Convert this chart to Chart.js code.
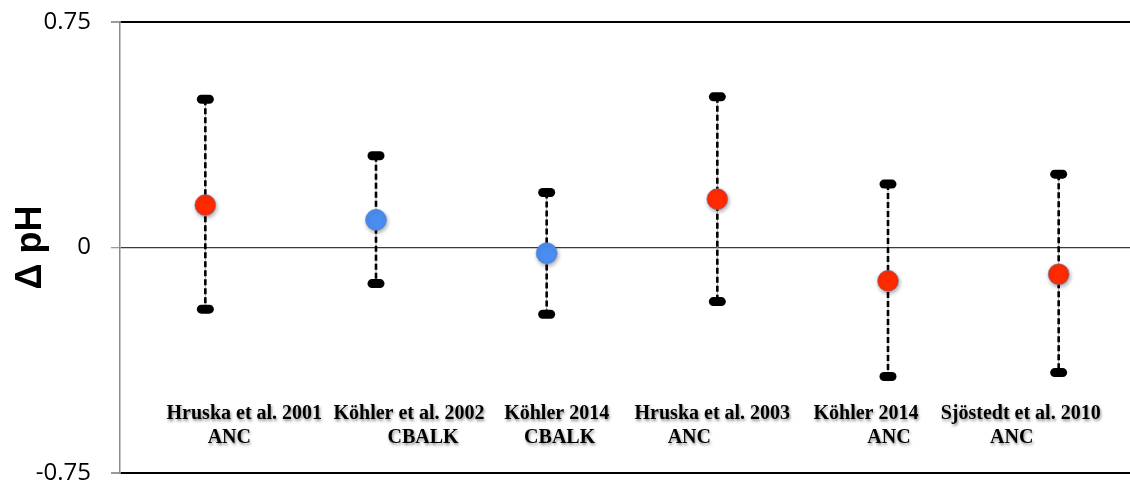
<!DOCTYPE html>
<html>
<head>
<meta charset="utf-8">
<script src="https://cdn.jsdelivr.net/npm/chart.js@4"></script>
<style>
  html, body { margin: 0; padding: 0; background: #fff; overflow: hidden; }
  #wrap { width: 1148px; height: 488px; }
</style>
</head>
<body>
<div id="wrap"><canvas id="c"></canvas></div>
<script>
// Study / indicator for each comparison
const studies = ['Hruska et al. 2001', 'Köhler et al. 2002', 'Köhler 2014', 'Hruska et al. 2003', 'Köhler 2014', 'Sjöstedt et al. 2010'];
const indicators = ['ANC', 'CBALK', 'CBALK', 'ANC', 'ANC', 'ANC'];

// Δ pH: mean with lower / upper range
const meanDeltaPH  = [0.141, 0.092, -0.019, 0.161, -0.111, -0.089];
const upperDeltaPH = [0.493, 0.305, 0.183, 0.501, 0.211, 0.244];
const lowerDeltaPH = [-0.205, -0.120, -0.222, -0.180, -0.429, -0.416];

// y-axis tick values
const yTicks = [-0.75, 0, 0.75];

// marker colour per indicator
const indicatorColors = { ANC: '#ff2a00', CBALK: '#4a8cf0' };

// horizontal nudges (px) of the two label lines under each point
const labelShift1 = [39, 33, 10, -5, -22, -38];
const labelShift2 = [24, 47, 13, -28, 1, -47];

const rangeBars = {
  id: 'rangeBars',
  beforeDatasetsDraw(chart) {
    const { ctx, scales: { x, y } } = chart;
    ctx.save();
    for (let i = 0; i < meanDeltaPH.length; i++) {
      const px = x.getPixelForValue(i);
      const yHi = y.getPixelForValue(upperDeltaPH[i]);
      const yLo = y.getPixelForValue(lowerDeltaPH[i]);
      // thin guide line
      ctx.setLineDash([]);
      ctx.strokeStyle = '#a8a8a8';
      ctx.lineWidth = 1;
      ctx.beginPath(); ctx.moveTo(px, yHi); ctx.lineTo(px, yLo); ctx.stroke();
      // dashed range line
      ctx.setLineDash([6, 3]);
      ctx.strokeStyle = '#000';
      ctx.lineWidth = 2.6;
      ctx.beginPath(); ctx.moveTo(px, yHi); ctx.lineTo(px, yLo); ctx.stroke();
      ctx.setLineDash([]);
      // rounded end caps
      ctx.fillStyle = '#000';
      for (const cy of [yHi, yLo]) {
        ctx.beginPath();
        ctx.roundRect(px - 8.5, cy - 4.5, 17, 9, 4.5);
        ctx.fill();
      }
    }
    ctx.restore();
  },
  beforeDatasetDraw(chart) {
    const ctx = chart.ctx;
    ctx.save();
    ctx.shadowColor = 'rgba(0,0,0,0.35)';
    ctx.shadowBlur = 4;
    ctx.shadowOffsetX = 1;
    ctx.shadowOffsetY = 2;
  },
  afterDatasetDraw(chart) {
    chart.ctx.restore();
  },
  afterDraw(chart) {
    const { ctx, chartArea, scales: { x } } = chart;
    ctx.save();
    ctx.font = 'bold 20px "Liberation Serif", serif';
    ctx.fillStyle = '#000';
    ctx.textAlign = 'center';
    ctx.textBaseline = 'alphabetic';
    ctx.shadowColor = 'rgba(0,0,0,0.45)';
    ctx.shadowBlur = 3;
    ctx.shadowOffsetX = 1;
    ctx.shadowOffsetY = 2;
    for (let i = 0; i < studies.length; i++) {
      const px = x.getPixelForValue(i);
      ctx.fillText(studies[i], px + labelShift1[i], chartArea.bottom - 54);
      ctx.fillText(indicators[i], px + labelShift2[i], chartArea.bottom - 30);
    }
    ctx.restore();
  }
};

new Chart(document.getElementById('c'), {
  type: 'line',
  data: {
    labels: studies.map((s, i) => s + ' ' + indicators[i]),
    datasets: [{
      data: meanDeltaPH,
      showLine: false,
      pointRadius: 10.5,
      pointHoverRadius: 10.5,
      pointBackgroundColor: indicators.map(k => indicatorColors[k]),
      pointBorderColor: 'rgba(90,130,200,0.55)',
      pointBorderWidth: 1
    }]
  },
  options: {
    responsive: true,
    maintainAspectRatio: false,
    animation: false,
    events: [],
    layout: { autoPadding: false, padding: { left: 0, right: 4, top: 22, bottom: 15 } },
    plugins: { legend: { display: false }, tooltip: { enabled: false } },
    scales: {
      x: {
        type: 'category',
        offset: true,
        display: false
      },
      y: {
        min: -0.75,
        max: 0.75,
        afterBuildTicks(axis) { axis.ticks = yTicks.map(v => ({ value: v })); },
        afterFit(axis) {
          axis.width = 120;
          axis.paddingTop = 0;
          axis.paddingBottom = 0;
        },
        ticks: {
          padding: 20,
          color: '#000',
          font: { family: '"Open Sans", sans-serif', size: 24 },
          callback: v => String(v)
        },
        grid: {
          tickLength: 9,
          tickColor: '#9a9a9a',
          color: c => c.tick.value === 0 ? '#3a3a3a' : '#000',
          lineWidth: c => c.tick.value === 0 ? 1.3 : 2
        },
        border: { display: true, color: '#8a8a8a', width: 1.5 },
        title: {
          display: true,
          text: 'Δ pH',
          color: '#000',
          font: { family: '"Liberation Sans", Arial, sans-serif', size: 36, weight: 'bold' },
          padding: { top: 9, bottom: 0 }
        }
      }
    }
  },
  plugins: [rangeBars]
});
</script>
</body>
</html>
